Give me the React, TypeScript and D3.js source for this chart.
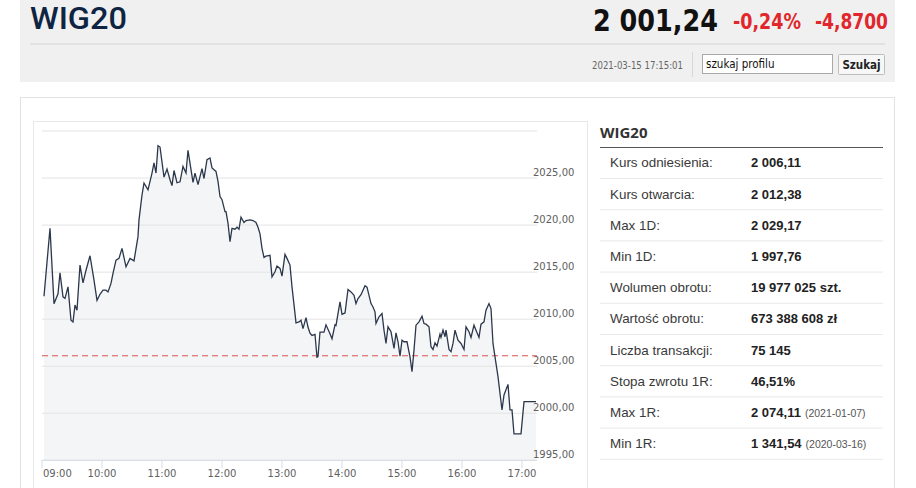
import * as d3 from 'd3';

// minutes after 09:00 and index value
const minutes = [
    2, 8, 12, 16, 18, 21, 23, 26, 29, 31, 33, 35, 38, 41, 44, 48, 52, 55, 58, 61,
    64, 66, 69, 71, 74, 77, 80, 84, 88, 92, 96, 97, 100, 102, 106, 110, 112, 114, 116, 118,
    122, 125, 128, 130, 132, 135, 138, 141, 144, 146, 151, 153, 156, 160, 162, 165, 168, 170, 174, 176,
    178, 180, 183, 184, 186, 188, 190, 193, 195, 197, 199, 202, 204, 208, 211, 214, 216, 218, 220, 222,
    224, 228, 230, 233, 235, 238, 240, 243, 245, 248, 250, 253, 254, 257, 259, 261, 264, 266, 268, 270,
    273, 275, 276, 278, 282, 284, 288, 290, 293, 294, 298, 300, 303, 306, 309, 312, 314, 316, 319, 323,
    325, 329, 331, 333, 334, 337, 340, 342, 344, 346, 349, 352, 354, 356, 358, 360, 362, 365, 368, 370,
    372, 374, 377, 380, 382, 384, 387, 389, 391, 393, 395, 398, 399, 401, 403, 404, 407, 409, 411, 413,
    416, 419, 422, 424, 427, 429, 432, 434, 437, 439, 442, 444, 447, 449, 451, 453, 456, 460, 462, 466,
    468, 470, 472, 479, 482, 494,
];
const values = [
    2012.44, 2019.66, 2011.65, 2012.7, 2014.93, 2012.37, 2012.2, 2013.43, 2009.88, 2009.7,
    2011.5, 2010.94, 2015.75, 2013.86, 2015.2, 2016.74, 2014.15, 2012.0, 2012.65, 2013.08,
    2013.08, 2012.9, 2013.8, 2014.86, 2016.28, 2016.46, 2017.53, 2015.57, 2016.46, 2016.2,
    2018.77, 2020.55, 2023.2, 2024.47, 2023.75, 2025.53, 2026.6, 2025.53, 2028.45, 2028.3,
    2025.1, 2025.96, 2024.82, 2024.2, 2025.8, 2024.5, 2024.6, 2026.24, 2025.53, 2027.95,
    2024.54, 2025.53, 2024.3, 2026.0, 2024.95, 2026.96, 2027.14, 2026.07, 2025.7, 2024.64,
    2023.04, 2022.7, 2021.44, 2021.44, 2020.2, 2018.24, 2019.66, 2019.56, 2019.77, 2019.56,
    2020.84, 2020.27, 2020.48, 2020.55, 2020.48, 2020.27, 2019.77, 2019.06, 2017.53, 2016.57,
    2016.7, 2016.78, 2014.5, 2015.04, 2015.64, 2015.4, 2014.57, 2016.89, 2016.46, 2015.75,
    2013.43, 2010.59, 2009.6, 2009.7, 2009.88, 2009.0, 2010.16, 2009.16, 2008.52, 2008.27,
    2008.38, 2005.96, 2006.03, 2008.63, 2008.63, 2009.4, 2008.45, 2007.92, 2009.4, 2009.34,
    2011.83, 2010.52, 2010.66, 2013.15, 2012.9, 2012.54, 2011.65, 2012.19, 2012.6, 2013.55,
    2013.4, 2011.66, 2011.3, 2010.78, 2009.54, 2010.25, 2010.6, 2008.83, 2007.42, 2009.19,
    2008.66, 2006.9, 2008.55, 2007.6, 2006.08, 2007.77, 2007.6, 2007.6, 2006.0, 2004.42,
    2006.71, 2009.36, 2009.72, 2010.32, 2009.54, 2009.47, 2009.19, 2007.07, 2006.78, 2007.49,
    2007.14, 2008.41, 2008.06, 2008.83, 2008.13, 2008.83, 2006.78, 2006.54, 2007.42, 2008.83,
    2007.77, 2007.42, 2006.78, 2009.19, 2008.66, 2008.06, 2009.36, 2008.83, 2008.06, 2009.47,
    2009.72, 2010.95, 2011.66, 2011.13, 2007.42, 2006.0, 2003.89, 2000.35, 2001.94, 2003.07,
    2000.35, 2000.35, 1997.81, 1997.81, 2001.24, 2001.24,
];

const hourTicks = ['09:00', '10:00', '11:00', '12:00', '13:00', '14:00', '15:00', '16:00', '17:00'];
const priceTicks = [1995, 2000, 2005, 2010, 2015, 2020, 2025, 2030];
const referencePrice = 2006.11;

const statLabels = [
    'Kurs odniesienia:',
    'Kurs otwarcia:',
    'Max 1D:',
    'Min 1D:',
    'Wolumen obrotu:',
    'Wartość obrotu:',
    'Liczba transakcji:',
    'Stopa zwrotu 1R:',
    'Max 1R:',
    'Min 1R:',
];
const statValues = [
    '2 006,11',
    '2 012,38',
    '2 029,17',
    '1 997,76',
    '19 977 025 szt.',
    '673 388 608 zł',
    '75 145',
    '46,51%',
    '2 074,11',
    '1 341,54',
];
const statNotes = ['', '', '', '', '', '', '', '', '(2021-01-07)', '(2020-03-16)'];

const plot = { left: 42, right: 537, top: 131, bottom: 460.3 };
const axisFont = "'DejaVu Sans', sans-serif";
const tableFont = "'Liberation Sans', Arial, sans-serif";
const narrowFont = "'Liberation Sans Narrow', 'DejaVu Sans Condensed', sans-serif";

const App = () => {
    const data = minutes.map((m, i) => ({ m, v: values[i] }));

    const x = d3.scaleLinear().domain([0, 495]).range([plot.left, plot.right]);
    const y = d3.scaleLinear().domain([1995, 2030]).range([plot.bottom, plot.top]);

    const line = d3
        .line<{ m: number; v: number }>()
        .x(d => x(d.m))
        .y(d => y(d.v));
    const area = d3
        .area<{ m: number; v: number }>()
        .x(d => x(d.m))
        .y0(plot.bottom)
        .y1(d => y(d.v));

    const rowH = 31.2;
    const firstRow = 162.7;

    return (
        <div style={{ position: 'fixed', left: 0, top: 0 }}>
            <svg width={916} height={488} style={{ display: 'block', background: '#fff' }}>
                {/* header */}
                <rect x={20} y={0} width={875} height={82} fill="#f0f0f0" />
                <line x1={30} x2={885} y1={44} y2={44} stroke="#d4d4d4" />
                <text
                    x={30}
                    y={29}
                    fontFamily="Roboto, sans-serif"
                    fontWeight={500}
                    fontSize={31}
                    fill="#0f2442"
                    textLength={97}
                    lengthAdjust="spacingAndGlyphs"
                >
                    WIG20
                </text>
                <text
                    x={593}
                    y={31}
                    fontFamily={narrowFont}
                    fontWeight="bold"
                    fontSize={31}
                    fill="#111"
                    textLength={125}
                    lengthAdjust="spacingAndGlyphs"
                >
                    2 001,24
                </text>
                <text
                    x={733}
                    y={29}
                    fontFamily={narrowFont}
                    fontWeight="bold"
                    fontSize={22}
                    fill="#e1262c"
                    textLength={68}
                    lengthAdjust="spacingAndGlyphs"
                >
                    -0,24%
                </text>
                <text
                    x={815}
                    y={29}
                    fontFamily={narrowFont}
                    fontWeight="bold"
                    fontSize={22}
                    fill="#e1262c"
                    textLength={73}
                    lengthAdjust="spacingAndGlyphs"
                >
                    -4,8700
                </text>
                <text
                    x={592}
                    y={68.5}
                    fontFamily={narrowFont}
                    fontSize={10.5}
                    fill="#666"
                    textLength={91}
                    lengthAdjust="spacingAndGlyphs"
                >
                    2021-03-15 17:15:01
                </text>
                <line x1={692.5} x2={692.5} y1={52} y2={77} stroke="#d8d8d8" />
                <rect x={702.5} y={54.5} width={130} height={19} fill="#fff" stroke="#a9a9a9" />
                <text x={706} y={67.5} fontFamily={narrowFont} fontSize={11.5} fill="#111">
                    szukaj profilu
                </text>
                <rect x={838.5} y={54.5} width={46} height={20} fill="#f7f7f7" stroke="#bdbdbd" rx={1} />
                <text
                    x={861.5}
                    y={68.5}
                    textAnchor="middle"
                    fontFamily={narrowFont}
                    fontWeight="bold"
                    fontSize={11.5}
                    fill="#222"
                >
                    Szukaj
                </text>

                {/* main panel */}
                <rect x={20.5} y={97.5} width={874} height={420} fill="#fff" stroke="#e2e2e2" />
                <rect x={33.5} y={121.5} width={554} height={400} fill="#fff" stroke="#e8e8e8" />

                {/* chart */}
                <path d={area(data) ?? ''} fill="#f4f5f7" />
                {priceTicks.map(t => (
                    <line
                        key={t}
                        x1={plot.left}
                        x2={plot.right}
                        y1={y(t)}
                        y2={y(t)}
                        stroke="#e3e3e3"
                        strokeWidth={1}
                    />
                ))}
                {priceTicks
                    .filter(t => t < 2030)
                    .map(t => (
                        <text
                            key={t}
                            x={533}
                            y={y(t) - 2.5}
                            fontFamily={axisFont}
                            fontSize={10}
                            fill="#606060"
                        >
                            {t.toFixed(2).replace('.', ',')}
                        </text>
                    ))}
                <line
                    x1={plot.left}
                    x2={plot.right}
                    y1={y(referencePrice)}
                    y2={y(referencePrice)}
                    stroke="#d9534f"
                    strokeWidth={1}
                    strokeDasharray="6,4"
                />
                <path d={line(data) ?? ''} fill="none" stroke="#2b374b" strokeWidth={1.3} />

                {/* x axis */}
                <line x1={plot.left} x2={plot.right} y1={plot.bottom} y2={plot.bottom} stroke="#d5dbe6" />
                {hourTicks.map((label, i) => (
                    <g key={label} transform={`translate(${x(i * 60)},0)`}>
                        <line y1={plot.bottom} y2={plot.bottom + 8} stroke="#d5dbe6" />
                        <text
                            x={i === 0 ? 1 : 0}
                            y={476.5}
                            textAnchor={i === 0 ? 'start' : 'middle'}
                            fontFamily={axisFont}
                            fontSize={10}
                            fill="#606060"
                        >
                            {label}
                        </text>
                    </g>
                ))}

                {/* stats table */}
                <text x={600} y={138} fontFamily="'Open Sans', sans-serif" fontWeight="bold" fontSize={15} fill="#333">
                    WIG20
                </text>
                <line x1={600} x2={883} y1={147.5} y2={147.5} stroke="#555" />
                {statLabels.map((label, i) => {
                    const cy = firstRow + i * rowH;
                    return (
                        <g key={label}>
                            <text x={610} y={cy + 4.7} fontFamily={tableFont} fontSize={13.4} fill="#3a3a3a">
                                {label}
                            </text>
                            <text x={751} y={cy + 4.7} fontFamily={tableFont} fontSize={13} fill="#222">
                                <tspan fontWeight="bold">{statValues[i]}</tspan>
                                {statNotes[i] && (
                                    <tspan fontSize={10.5} fill="#555" dx={4}>
                                        {statNotes[i]}
                                    </tspan>
                                )}
                            </text>
                            <line
                                x1={600}
                                x2={883}
                                y1={178.5 + i * rowH}
                                y2={178.5 + i * rowH}
                                stroke="#e9e9e9"
                            />
                        </g>
                    );
                })}
            </svg>
        </div>
    );
};

export default App;
